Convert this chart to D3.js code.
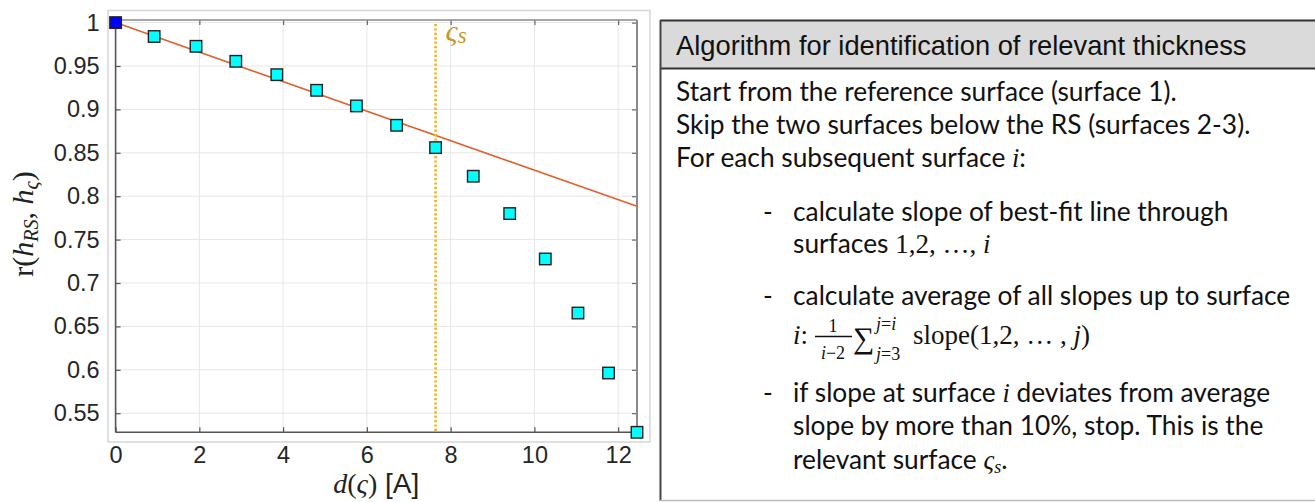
<!DOCTYPE html>
<html><head><meta charset="utf-8">
<script src="https://cdn.jsdelivr.net/npm/d3@7"></script>
<style>body{margin:0;background:#fff;} svg{display:block;}</style>
</head><body><svg id="c" width="1315" height="502"></svg>
<script>
// ---- data ----
const depth = [0, 0.92, 1.92, 2.87, 3.85, 4.80, 5.75, 6.71, 7.64, 8.54, 9.41, 10.26, 11.04, 11.77, 12.45];
const corr  = [1, 0.984, 0.9727, 0.9554, 0.940, 0.922, 0.904, 0.8817, 0.856, 0.823, 0.780, 0.7277, 0.6654, 0.5963, 0.528];
const fitX = [0, 12.45];
const fitY = [1, 0.7884];
const surfaceDepth = [7.64];
const xTicks = [0, 2, 4, 6, 8, 10, 12];
const yTicks = [0.55, 0.6, 0.65, 0.7, 0.75, 0.8, 0.85, 0.9, 0.95, 1];
const xLimits = [0, 12.45];
const yLimits = [0.528, 1.003];
const headerText = "Algorithm for identification of relevant thickness";
const introLines = ["Start from the reference surface (surface 1).",
                    "Skip the two surfaces below the RS (surfaces 2-3)."];

const svg = d3.select("#c");
const L = 115.6, R = 637, T = 20, B = 432.3;
const x = d3.scaleLinear().domain(xLimits).range([L, R]);
const y = d3.scaleLinear().domain(yLimits).range([B, T]);
const sans = "'Liberation Sans', Arial, Helvetica, sans-serif";
const serif = "'Liberation Serif', 'Times New Roman', serif";
const body = "Lato, 'Open Sans', sans-serif";

// outer figure frame
svg.append("rect").attr("x", 108).attr("y", 10.5).attr("width", 542).attr("height", 431.5)
  .attr("fill", "none").attr("stroke", "#d6d6d6").attr("stroke-width", 1.5);

// grid
const g = svg.append("g");
g.selectAll(".gx").data(xTicks).join("line")
  .attr("x1", d => x(d)).attr("x2", d => x(d)).attr("y1", T).attr("y2", B)
  .attr("stroke", "#e6e6e6").attr("stroke-width", 1);
g.selectAll(".gy").data(yTicks).join("line")
  .attr("x1", L).attr("x2", R).attr("y1", d => y(d)).attr("y2", d => y(d))
  .attr("stroke", "#e6e6e6").attr("stroke-width", 1);

// axes with inward ticks
function styleAxis(sel, col) {
  sel.select(".domain").remove();
  sel.selectAll(".tick line").attr("stroke", col).attr("stroke-width", 1.2);
  sel.selectAll(".tick text").attr("font-family", sans).attr("font-size", 23.5).attr("fill", "#262626");
}
const xb = svg.append("g").attr("transform", `translate(0,${B})`)
  .call(d3.axisBottom(x).tickValues(xTicks).tickSize(-5).tickPadding(14).tickFormat(d3.format("d")));
styleAxis(xb, "#555");
xb.selectAll(".tick text").attr("dy", "0.71em");
const yl = svg.append("g").attr("transform", `translate(${L},0)`)
  .call(d3.axisLeft(y).tickValues(yTicks).tickSize(-5).tickPadding(16).tickFormat(d => String(+d.toFixed(2))));
styleAxis(yl, "#555");
const xt = svg.append("g").attr("transform", `translate(0,${T})`)
  .call(d3.axisTop(x).tickValues(xTicks).tickSize(-5).tickFormat(""));
styleAxis(xt, "#666");
const yr = svg.append("g").attr("transform", `translate(${R},0)`)
  .call(d3.axisRight(y).tickValues(yTicks).tickSize(-5).tickFormat(""));
styleAxis(yr, "#666");

// box lines
svg.append("line").attr("x1", L).attr("x2", R).attr("y1", T).attr("y2", T).attr("stroke", "#8a8a8a").attr("stroke-width", 1.3);
svg.append("line").attr("x1", R).attr("x2", R).attr("y1", T).attr("y2", B).attr("stroke", "#8a8a8a").attr("stroke-width", 2);
svg.append("line").attr("x1", L).attr("x2", R).attr("y1", B).attr("y2", B).attr("stroke", "#555").attr("stroke-width", 1.6);
svg.append("line").attr("x1", L).attr("x2", L).attr("y1", T).attr("y2", B).attr("stroke", "#555").attr("stroke-width", 1.6);

// fit line
const fit = fitX.map((d, i) => [d, fitY[i]]);
svg.append("path").datum(fit)
  .attr("d", d3.line().x(d => x(d[0])).y(d => y(d[1])))
  .attr("stroke", "#e0622e").attr("stroke-width", 1.6).attr("fill", "none");

// surface marker line
svg.selectAll(".vs").data(surfaceDepth).join("line")
  .attr("x1", d => x(d)).attr("x2", d => x(d)).attr("y1", T + 4).attr("y2", B)
  .attr("stroke", "#f2b21c").attr("stroke-width", 2.6).attr("stroke-dasharray", "2.2,2.2");
svg.selectAll(".vsl").data(surfaceDepth).join("text")
  .attr("x", d => x(d) + 10).attr("y", 41)
  .attr("font-family", serif).attr("font-style", "italic").attr("font-size", 30).attr("fill", "#c09a30")
  .call(t => { t.append("tspan").text("ς"); t.append("tspan").attr("font-size", 23).attr("dy", 2).text("s"); });

// points
const pts = depth.map((d, i) => ({ x: d, y: corr[i], i }));
const ms = 11.5;
svg.selectAll(".pt").data(pts).join("rect")
  .attr("x", d => x(d.x) - ms / 2).attr("y", d => y(d.y) - ms / 2)
  .attr("width", ms).attr("height", ms)
  .attr("fill", d => d.i === 0 ? "#0000ff" : "#00ffff")
  .attr("stroke", "#222").attr("stroke-width", 1.4);

// axis labels
const xlab = svg.append("text").attr("x", (L + R) / 2).attr("y", 493).attr("text-anchor", "middle").attr("fill", "#222").attr("font-size", 28);
xlab.append("tspan").attr("font-family", serif).attr("font-style", "italic").text("d");
xlab.append("tspan").attr("font-family", serif).text("(");
xlab.append("tspan").attr("font-family", serif).attr("font-style", "italic").text("ς");
xlab.append("tspan").attr("font-family", serif).text(")");
xlab.append("tspan").attr("font-family", sans).text(" [A]");

const ylab = svg.append("text").attr("transform", "translate(33,224) rotate(-90)")
  .attr("text-anchor", "middle").attr("fill", "#222").attr("font-family", serif).attr("font-size", 30);
ylab.append("tspan").text("r(");
ylab.append("tspan").attr("font-style", "italic").text("h");
ylab.append("tspan").attr("font-style", "italic").attr("font-size", 20).attr("dy", 5).text("RS");
ylab.append("tspan").attr("dy", -5).text(", ");
ylab.append("tspan").attr("font-style", "italic").text("h");
ylab.append("tspan").attr("font-style", "italic").attr("font-size", 20).attr("dy", 5).text("ς");
ylab.append("tspan").attr("dy", -5).text(")");

// ---- right panel ----
const P = svg.append("g");
P.append("rect").attr("x", 660).attr("y", 20).attr("width", 700).attr("height", 49).attr("fill", "#dadada");
P.append("line").attr("x1", 660).attr("x2", 1315).attr("y1", 20.5).attr("y2", 20.5).attr("stroke", "#333").attr("stroke-width", 2);
P.append("line").attr("x1", 660).attr("x2", 1315).attr("y1", 68.5).attr("y2", 68.5).attr("stroke", "#333").attr("stroke-width", 2);
P.append("line").attr("x1", 660.5).attr("x2", 660.5).attr("y1", 20).attr("y2", 501).attr("stroke", "#444").attr("stroke-width", 2);
P.append("line").attr("x1", 660).attr("x2", 1315).attr("y1", 500.5).attr("y2", 500.5).attr("stroke", "#bdbdbd").attr("stroke-width", 1.5);
P.append("text").attr("x", 676).attr("y", 55).attr("font-family", sans).attr("font-size", 27.3).attr("fill", "#111").text(headerText);

const fs = 26.3, tc = "#111", ms2 = 27, sm = 18;
function line(xp, yp) { return P.append("text").attr("x", xp).attr("y", yp).attr("font-family", body).attr("font-size", fs).attr("fill", tc); }
function mi(t, s) { t.append("tspan").attr("font-family", serif).attr("font-style", "italic").text(s); }
introLines.forEach((s, i) => line(676, 101 + i * 33).text(s));
const l3 = line(676, 167); l3.append("tspan").text("For each subsequent surface "); mi(l3, "i"); l3.append("tspan").text(":");

const bx = 763, tx = 793;
[221, 305, 402].forEach(yy => line(bx, yy).text("-"));
line(tx, 221).text("calculate slope of best-fit line through");
const l5 = line(tx, 253); l5.append("tspan").text("surfaces ");
l5.append("tspan").attr("font-family", serif).attr("font-size", ms2).text("1,2, …, "); l5.append("tspan").attr("font-family", serif).attr("font-style", "italic").attr("font-size", ms2).text("i");
line(tx, 305).text("calculate average of all slopes up to surface");
// formula line
const fy = 344;
const f1 = P.append("text").attr("x", tx).attr("y", fy).attr("font-family", serif).attr("font-size", ms2).attr("fill", tc);
mi(f1, "i"); f1.append("tspan").text(":");
P.append("text").attr("x", 833).attr("y", 332).attr("text-anchor", "middle").attr("font-family", serif).attr("font-size", sm).attr("fill", tc).text("1");
P.append("line").attr("x1", 815).attr("x2", 852).attr("y1", 336.5).attr("y2", 336.5).attr("stroke", tc).attr("stroke-width", 1.4);
const den = P.append("text").attr("x", 833).attr("y", 359).attr("text-anchor", "middle").attr("font-family", serif).attr("font-size", sm).attr("fill", tc);
mi(den, "i"); den.append("tspan").text("−2");
P.append("text").attr("x", 853).attr("y", 348).attr("font-family", serif).attr("font-size", 30).attr("fill", tc).text("∑");
const sup = P.append("text").attr("x", 876).attr("y", 330).attr("font-family", serif).attr("font-size", sm).attr("fill", tc);
mi(sup, "j"); sup.append("tspan").text("="); mi(sup, "i");
const sub = P.append("text").attr("x", 876).attr("y", 360).attr("font-family", serif).attr("font-size", sm).attr("fill", tc);
mi(sub, "j"); sub.append("tspan").text("=3");
const f2 = P.append("text").attr("x", 913).attr("y", fy).attr("font-family", serif).attr("font-size", ms2).attr("fill", tc);
f2.append("tspan").text("slope(1,2, … , "); mi(f2, "j"); f2.append("tspan").text(")");

const l8 = line(tx, 402); l8.append("tspan").text("if slope at surface "); mi(l8, "i"); l8.append("tspan").text(" deviates from average");
line(tx, 435).text("slope by more than 10%, stop. This is the");
const l10 = line(tx, 469); l10.append("tspan").text("relevant surface "); mi(l10, "ς");
l10.append("tspan").attr("font-family", serif).attr("font-style", "italic").attr("font-size", sm).attr("dy", 4).text("s");
l10.append("tspan").attr("dy", -4).text(".");
</script></body></html>
